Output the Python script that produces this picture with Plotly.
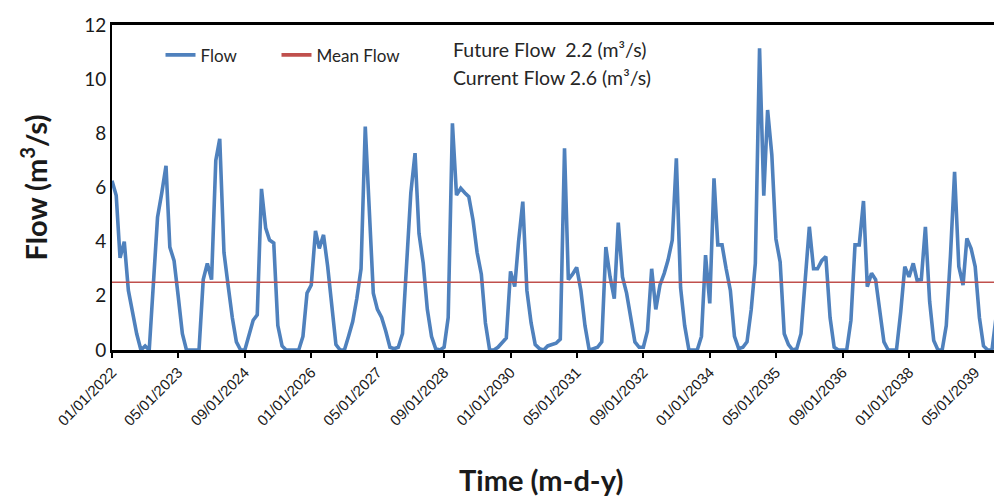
import pandas as pd
import plotly.graph_objects as go

# ---- data (monthly flow, m3/s) ----
start_date = "2022-01-01"
flow = [
    6.25, 5.7, 3.4, 4.0, 2.2, 1.4, 0.6, 0.0, 0.15, 0.0, 2.4, 4.9,      # 2022
    5.8, 6.8, 3.8, 3.3, 2.0, 0.6, 0.0, 0.0, 0.0, 0.0, 2.6, 3.2,        # 2023
    2.6, 7.0, 7.8, 3.6, 2.4, 1.2, 0.3, 0.0, 0.0, 0.6, 1.1, 1.3,        # 2024
    5.95, 4.5, 4.06, 3.95, 0.9, 0.15, 0.0, 0.0, 0.0, 0.0, 0.5, 2.1,    # 2025
    2.4, 4.4, 3.75, 4.25, 3.1, 1.6, 0.2, 0.0, 0.0, 0.5, 1.05, 1.9,     # 2026
    3.0, 8.25, 5.0, 2.1, 1.5, 1.2, 0.7, 0.1, 0.05, 0.1, 0.6, 3.3,      # 2027
    5.8, 7.27, 4.3, 3.2, 1.5, 0.5, 0.05, 0.0, 0.1, 1.2, 8.37, 5.72,    # 2028
    5.97, 5.8, 5.66, 4.8, 3.6, 2.8, 1.0, 0.0, 0.0, 0.1, 0.3, 0.44,     # 2029
    2.9, 2.34, 4.0, 5.48, 2.2, 1.0, 0.2, 0.05, 0.0, 0.15, 0.2, 0.25,   # 2030
    0.4, 7.45, 2.6, 2.8, 3.05, 2.2, 0.9, 0.0, 0.05, 0.1, 0.3, 3.8,     # 2031
    2.7, 1.9, 4.7, 2.7, 2.1, 1.2, 0.3, 0.1, 0.1, 0.7, 3.0, 1.5,        # 2032
    2.4, 2.83, 3.32, 4.06, 7.08, 2.3, 0.9, 0.0, 0.0, 0.0, 0.5, 3.5,    # 2033
    1.72, 6.34, 3.88, 3.88, 3.0, 2.2, 0.5, 0.05, 0.1, 0.3, 1.5, 3.2,   # 2034
    11.14, 5.7, 8.86, 7.2, 4.1, 3.25, 0.6, 0.2, 0.0, 0.05, 0.6, 2.5,   # 2035
    4.55, 3.0, 3.0, 3.3, 3.45, 1.2, 0.1, 0.0, 0.0, 0.0, 1.1, 3.88,     # 2036
    3.88, 5.5, 2.34, 2.83, 2.6, 1.5, 0.3, 0.0, 0.0, 0.0, 1.4, 3.08,    # 2037
    2.7, 3.2, 2.58, 2.6, 4.55, 1.8, 0.35, 0.0, 0.0, 0.9, 3.5, 6.58,    # 2038
    3.08, 2.4, 4.12, 3.75, 3.08, 1.2, 0.15, 0.0, 0.0, 1.2,             # 2039
]
mean_flow_value = 2.5
future_flow = 2.2
current_flow = 2.6

dates = pd.date_range(start_date, periods=len(flow), freq="MS")
mean_flow = [mean_flow_value] * len(flow)

x_start = "2022-01-01"
x_end = "2039-09-16"

fig = go.Figure()
fig.add_trace(go.Scatter(
    x=dates, y=flow, mode="lines", name="Flow",
    line=dict(color="#4F81BD", width=3.6), legend="legend",
))
fig.add_trace(go.Scatter(
    x=dates, y=mean_flow, mode="lines", name="Mean Flow",
    line=dict(color="#C0504D", width=1.5), showlegend=False,
))
# legend entry for the mean flow (thick key line, as in the original legend)
fig.add_trace(go.Scatter(
    x=[None], y=[None], mode="lines", name="Mean Flow",
    line=dict(color="#C0504D", width=3.6), legend="legend2", hoverinfo="skip",
))

font_main = "Lato, 'Open Sans', Arial, sans-serif"
legend_style = dict(
    orientation="h", yanchor="top", xanchor="left", y=0.962,
    bgcolor="rgba(0,0,0,0)", font=dict(size=17, color="#262626", family=font_main),
)

fig.update_layout(
    width=994, height=497,
    margin=dict(l=112, r=0, t=25, b=147),
    paper_bgcolor="white", plot_bgcolor="white",
    font=dict(family=font_main, color="#1a1a1a"),
    showlegend=True,
    legend=dict(x=0.055, **legend_style),
    legend2=dict(x=0.1865, **legend_style),
    xaxis=dict(
        type="date", range=[x_start, x_end],
        tick0="2022-01-01", dtick="M16", tickformat="%m/%d/%Y",
        tickangle=-45,
        tickfont=dict(family="Arial, 'Liberation Sans', sans-serif", size=15, color="#1a1a1a"),
        ticks="outside", ticklen=5, tickwidth=1.5, tickcolor="black",
        showline=True, linecolor="black", linewidth=2.5, mirror=True,
        showgrid=False, zeroline=False,
        automargin=False,
    ),
    yaxis=dict(
        range=[0, 12], dtick=2,
        tickfont=dict(size=19, family=font_main, color="#1a1a1a"),
        ticks="", showline=True, linecolor="black", linewidth=2,
        showgrid=False, zeroline=False,
        title=dict(text="<b>Flow (m<sup>3</sup>/s)</b>", font=dict(size=29, family=font_main, color="#1a1a1a"),
                   standoff=28),
        automargin=False,
    ),
    annotations=[
        dict(xref="paper", yref="paper", x=(541 - 112) / 882, y=-(480 - 350) / 325,
             xanchor="center", yanchor="middle", showarrow=False,
             text="<b>Time (m-d-y)</b>",
             font=dict(size=29, family=font_main, color="#1a1a1a")),
        dict(xref="paper", yref="paper", x=(451 - 112) / 882, y=(350 - 50) / 325,
             xanchor="left", yanchor="middle", showarrow=False,
             text=f"Future Flow  {future_flow} (m³/s)",
             font=dict(size=19.5, family=font_main, color="#262626")),
        dict(xref="paper", yref="paper", x=(451 - 112) / 882, y=(350 - 77) / 325,
             xanchor="left", yanchor="middle", showarrow=False,
             text=f"Current Flow {current_flow} (m³/s)",
             font=dict(size=19.5, family=font_main, color="#262626")),
    ],
)

fig.write_html("out.html")
